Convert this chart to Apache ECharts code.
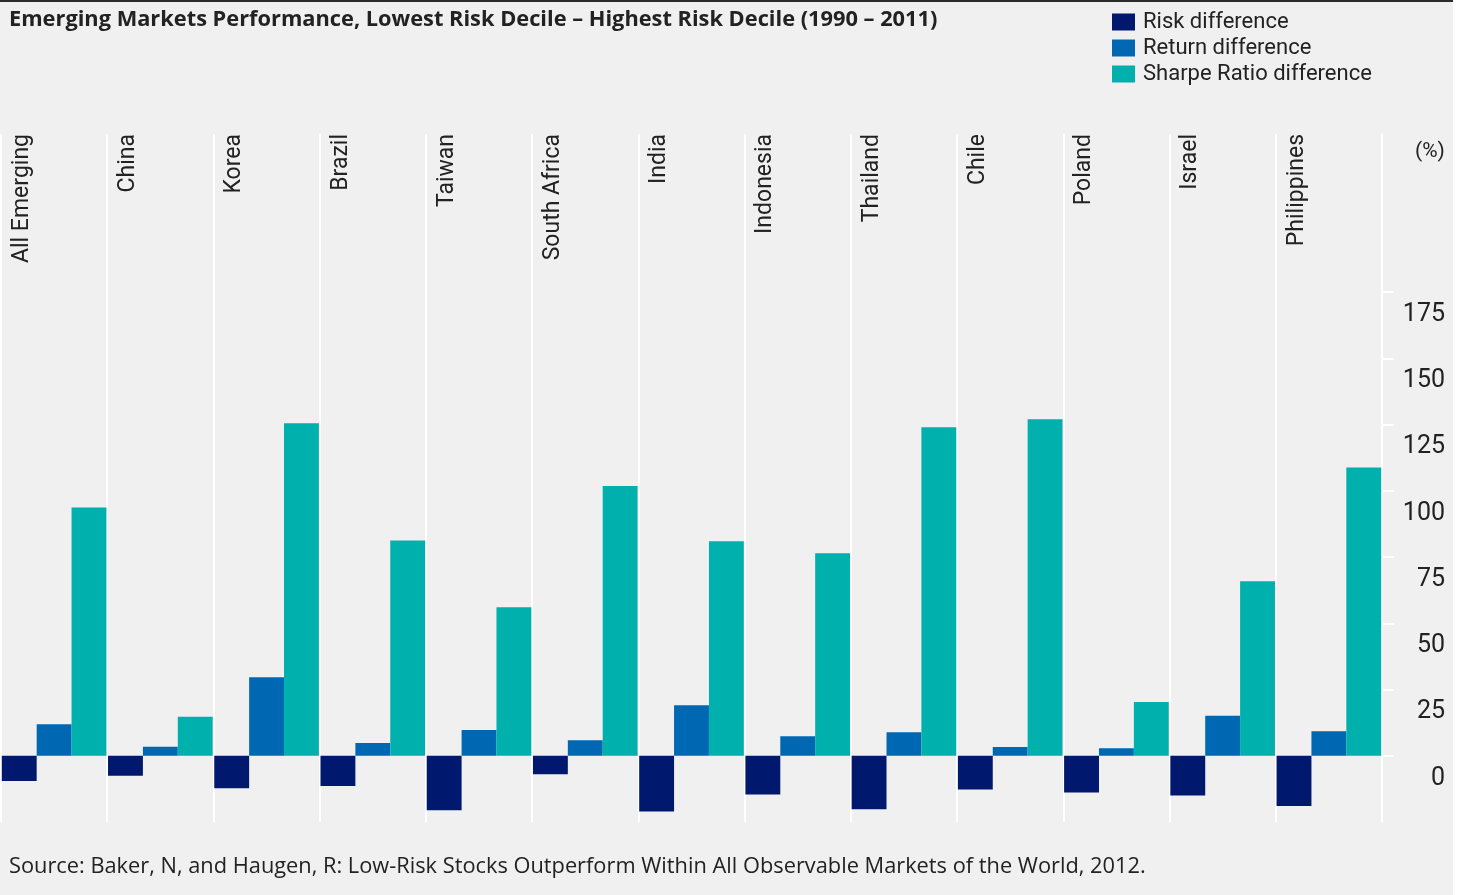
<!DOCTYPE html>
<html><head><meta charset="utf-8">
<script src="https://cdn.jsdelivr.net/npm/echarts@6/dist/echarts.min.js"></script>
<style>
html,body{margin:0;padding:0;background:#fff;}
#chart{position:absolute;left:0;top:0;width:1453px;height:895px;background:#f0f0f0;}
#topline{position:absolute;left:0;top:0;width:1453px;height:2px;background:#2b2b2b;}
</style></head><body>
<div id="chart"></div><div id="topline"></div>
<script>
const categories = ['All Emerging','China','Korea','Brazil','Taiwan','South Africa','India','Indonesia','Thailand','Chile','Poland','Israel','Philippines'];
const riskDiff   = [-9.5, -7.5, -12.3, -11.4, -20.6, -7.0, -21.0, -14.6, -20.2, -12.7, -13.9, -15.0, -19.0];
const returnDiff = [11.9, 3.4, 29.6, 4.8, 9.7, 5.9, 19.1, 7.4, 8.9, 3.3, 2.8, 15.1, 9.3];
const sharpeDiff = [93.7, 14.7, 125.5, 81.3, 56.1, 101.8, 81.0, 76.4, 124.0, 127.0, 20.3, 65.9, 108.8];
const seriesNames = ['Risk difference','Return difference','Sharpe Ratio difference'];
const yTickValues = [0, 25, 50, 75, 100, 125, 150, 175];
const titleText = 'Emerging Markets Performance, Lowest Risk Decile – Highest Risk Decile (1990 – 2011)';
const sourceText = 'Source: Baker, N, and Haugen, R: Low-Risk Stocks Outperform Within All Observable Markets of the World, 2012.';

const FONT = 'Roboto';
const FONT2 = 'Open Sans';
const TXT = '#222222';
const colors = ['#00196e', '#0068b2', '#00b0ad'];
const chart = echarts.init(document.getElementById('chart'), null, {renderer: 'canvas'});
const mkSeries = (name, data, color) => ({
  name, type: 'bar', data,
  itemStyle: {color},
  barGap: '0%', barCategoryGap: '1.5%',
  emphasis: {disabled: true}
});
const option = {
  animation: false,
  backgroundColor: '#f0f0f0',
  textStyle: {fontFamily: FONT},
  title: [
    {text: titleText, left: 9, top: 8, padding: 0,
     textStyle: {fontSize: 21.8, fontWeight: 'bold', color: TXT, fontFamily: FONT2, lineHeight: 24}},
    {text: sourceText, left: 9, top: 855, padding: 0,
     textStyle: {fontSize: 21.8, fontWeight: 'normal', color: TXT, fontFamily: FONT2, lineHeight: 24}}
  ],
  legend: {
    orient: 'vertical', left: 1112, top: 11, padding: 0,
    itemWidth: 23, itemHeight: 17, itemGap: 4, icon: 'rect',
    textStyle: {fontSize: 22, lineHeight: 21, color: TXT, fontFamily: FONT, padding: [0, 0, 0, 3]},
    data: seriesNames
  },
  grid: {left: 1, right: 71, top: 134, bottom: 73},
  xAxis: {
    type: 'category', data: categories, position: 'top', boundaryGap: true,
    axisLine: {show: false}, axisTick: {show: false},
    splitLine: {show: true, lineStyle: {color: '#ffffff', width: 2}},
    axisLabel: {inside: true, rotate: 90, interval: 0, margin: 0,
      fontSize: 23, lineHeight: 24, color: TXT, fontFamily: FONT,
      verticalAlign: 'bottom', padding: [0, 0, 20, 0]}
  },
  yAxis: {
    type: 'value', position: 'right', min: -25, max: 234.7,
    axisLine: {show: true, lineStyle: {color: '#ffffff', width: 2}},
    axisTick: {show: true, customValues: yTickValues, length: 12, lineStyle: {color: '#ffffff', width: 2}},
    axisLabel: {customValues: yTickValues, align: 'right', margin: 63, fontSize: 25, color: TXT,
      fontFamily: FONT, verticalAlign: 'top', lineHeight: 45},
    splitLine: {show: false},
    name: '(%)', nameLocation: 'end', nameGap: -18,
    nameTextStyle: {fontSize: 21, color: TXT, fontFamily: FONT, align: 'left', verticalAlign: 'middle', padding: [0, 0, 0, 33]}
  },
  series: [
    mkSeries(seriesNames[0], riskDiff, colors[0]),
    mkSeries(seriesNames[1], returnDiff, colors[1]),
    mkSeries(seriesNames[2], sharpeDiff, colors[2])
  ]
};
chart.setOption(option);
</script>
</body></html>
